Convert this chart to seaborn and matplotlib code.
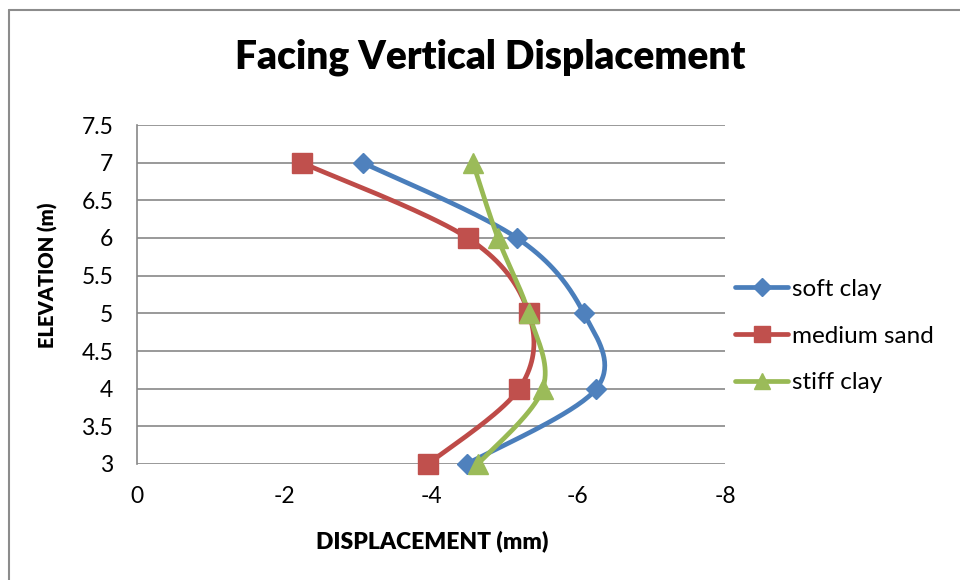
import numpy as np
import matplotlib
matplotlib.use("Agg")
import matplotlib.pyplot as plt
from matplotlib.lines import Line2D
import seaborn as sns

# data
elevation = [7, 6, 5, 4, 3]
soft_clay = [-3.07, -5.17, -6.08, -6.25, -4.49]
medium_sand = [-2.24, -4.50, -5.33, -5.20, -3.96]
stiff_clay = [-4.57, -4.91, -5.33, -5.52, -4.64]

series_names = ["soft clay", "medium sand", "stiff clay"]
x_ticks = [0, -2, -4, -6, -8]
y_ticks = [3, 3.5, 4, 4.5, 5, 5.5, 6, 6.5, 7, 7.5]


def smooth(xs, ys, n=40):
    # excel-like smoothed line: cubic bezier with catmull-rom control points
    pts = np.column_stack([xs, ys]).astype(float)
    out = []
    for i in range(len(pts) - 1):
        p0 = pts[i - 1] if i > 0 else pts[i]
        p1, p2 = pts[i], pts[i + 1]
        p3 = pts[i + 2] if i + 2 < len(pts) else pts[i + 1]
        c1 = p1 + (p2 - p0) / 6
        c2 = p2 - (p3 - p1) / 6
        t = np.linspace(0, 1, n)[:, None]
        seg = ((1 - t) ** 3) * p1 + 3 * ((1 - t) ** 2) * t * c1 + 3 * (1 - t) * t ** 2 * c2 + t ** 3 * p2
        out.append(seg if i == 0 else seg[1:])
    seg = np.vstack(out)
    return seg[:, 0], seg[:, 1]


sns.set_style("white")
plt.rcParams["font.family"] = ["Lato", "DejaVu Sans"]
plt.rcParams["text.color"] = "black"
plt.rcParams["xtick.color"] = "black"
plt.rcParams["ytick.color"] = "black"

fig = plt.figure(figsize=(9.6, 5.8), dpi=100)
ax = fig.add_axes([137 / 960, 1 - 464 / 580, (725 - 137) / 960, (464 - 125) / 580])

line_colors = ["#4A7EBB", "#BE4B48", "#98B954"]
marker_colors = ["#4F81BD", "#C0504D", "#9BBB59"]
markers = ["D", "s", "^"]
msizes = [10.5, 14, 14]

handles = []
for name, vals, lc, mc, mk, ms in zip(series_names, [soft_clay, medium_sand, stiff_clay],
                                      line_colors, marker_colors, markers, msizes):
    sx, sy = smooth(vals, elevation)
    sns.lineplot(x=sx, y=sy, sort=False, estimator=None, color=lc, linewidth=3.4, ax=ax, zorder=3)
    ax.plot(vals, elevation, linestyle="none", marker=mk, markersize=ms, color=mc,
            markeredgecolor=mc, zorder=4, clip_on=False)
    handles.append(Line2D([0], [0], color=lc, linewidth=3.4, marker=mk, markersize=ms * 0.85,
                          markerfacecolor=mc, markeredgecolor=mc))

ax.set_xlim(0, -8)
ax.set_ylim(3, 7.5)
ax.set_xticks(x_ticks)
ax.set_xticklabels([str(v) for v in x_ticks])
ax.set_yticks(y_ticks)
ax.set_yticklabels([f"{v:g}" for v in y_ticks])
ax.grid(axis="y", color="#888888", linewidth=1.2)
ax.grid(axis="x", visible=False)
for s in ["top", "right", "bottom"]:
    ax.spines[s].set_visible(False)
ax.spines["left"].set_color("#888888")
ax.spines["left"].set_linewidth(1.2)
ax.tick_params(axis="x", length=0, pad=16, labelsize=16.5)
ax.tick_params(axis="y", length=0, pad=17, labelsize=16.5)
ax.set_xlabel("")
ax.set_ylabel("")

fig.text(490 / 960, 1 - 57 / 580, "Facing Vertical Displacement", ha="center", va="center",
         fontsize=28, fontweight="heavy")
fig.text(432 / 960, 1 - 541 / 580, "DISPLACEMENT (mm)", ha="center", va="center",
         fontsize=16.5, fontweight="heavy")
fig.text(48 / 960, 1 - 275 / 580, "ELEVATION (m)", ha="center", va="center", rotation=90,
         fontsize=14.5, fontweight="heavy")

fig.legend(handles, series_names, loc="center left", bbox_to_anchor=(735 / 960, 1 - 336 / 580),
           frameon=False, fontsize=17.5, handlelength=2.2, handletextpad=0.15, labelspacing=1.05,
           borderpad=0, borderaxespad=0)

# chart frame
fig.add_artist(Line2D([9 / 960, 1], [1 - 10 / 580, 1 - 10 / 580], color="#8c8c8c", linewidth=1.5))
fig.add_artist(Line2D([9 / 960, 9 / 960], [0, 1 - 10 / 580], color="#8c8c8c", linewidth=1.5))

fig.savefig("out.png", dpi=100)
